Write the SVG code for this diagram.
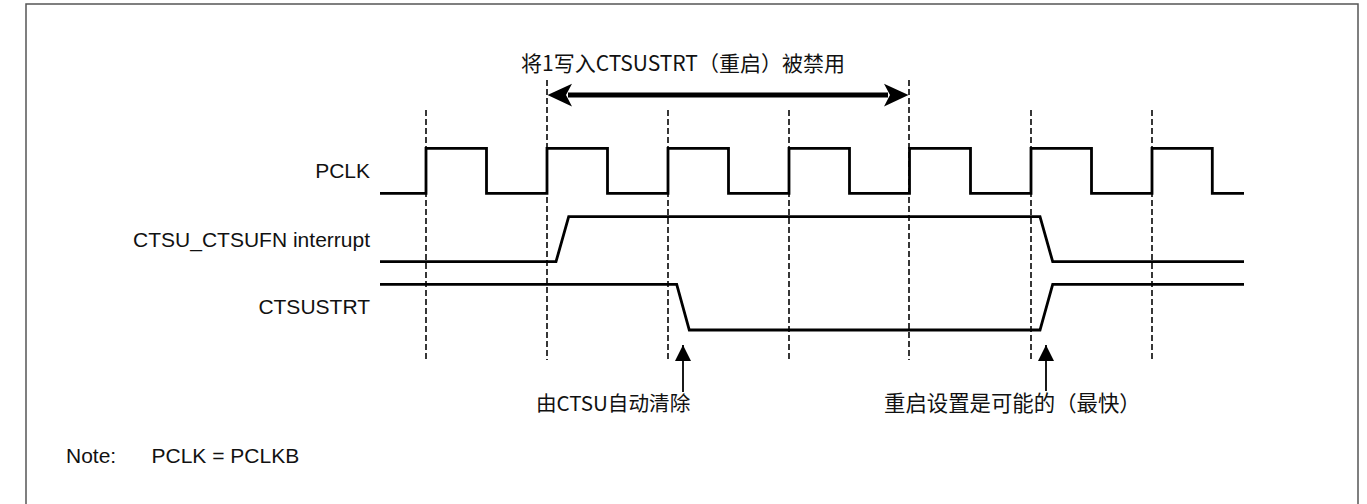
<svg xmlns="http://www.w3.org/2000/svg" width="1367" height="504" viewBox="0 0 1367 504">
<style>
.frame{fill:none;stroke:#555;stroke-width:1.5}
.sig{fill:none;stroke:#000;stroke-width:2.8;stroke-linejoin:miter;stroke-linecap:butt}
.dash{fill:none;stroke:#222;stroke-width:1.8;stroke-dasharray:6 3}
.lbl{font-family:"Liberation Sans",Arial,sans-serif;font-size:21px;fill:#111}
.cjk{font-family:"Noto Sans CJK SC","Noto Sans",sans-serif;fill:#111}
.ptr{fill:none;stroke:#000;stroke-width:1.8}
</style>
<defs>
<marker id="up" markerWidth="16" markerHeight="16" viewBox="0 0 16 16" refX="8" refY="0" orient="0" markerUnits="userSpaceOnUse">
<path d="M8,0 L16,16 L0,16 Z" fill="#000"/>
</marker>
</defs>
<rect x="0" y="0" width="1367" height="504" fill="#fff"/>
<path class="frame" d="M26,505 L26,4 L1358,4 L1358,505"/>

<g id="grid">
<line class="dash" x1="426" y1="110" x2="426" y2="360"/>
<line class="dash" x1="547" y1="80" x2="547" y2="360"/>
<line class="dash" x1="668" y1="110" x2="668" y2="360"/>
<line class="dash" x1="789" y1="110" x2="789" y2="360"/>
<line class="dash" x1="909" y1="80" x2="909" y2="360"/>
<line class="dash" x1="1031" y1="110" x2="1031" y2="360"/>
<line class="dash" x1="1152" y1="110" x2="1152" y2="360"/>
</g>

<g id="title">
<text class="cjk" x="521" y="71" font-size="21">将1写入CTSUSTRT（重启）被禁用</text>
</g>

<g id="connectors">
<line x1="568" y1="95" x2="888" y2="95" stroke="#000" stroke-width="5"/>
<path d="M547.5,95 L572,83.7 L566,95 L572,106.5 Z" fill="#000"/>
<path d="M908.5,95 L884,83.7 L890,95 L884,106.5 Z" fill="#000"/>
<line class="ptr" x1="683" y1="392" x2="683" y2="345" marker-end="url(#up)"/>
<line class="ptr" x1="1046" y1="391" x2="1046" y2="345" marker-end="url(#up)"/>
</g>

<g id="pclk">
<text class="lbl" x="370" y="178" text-anchor="end">PCLK</text>
<path class="sig" d="M380,193.3 H426 V148.3 H486.5 V193.3 H547 V148.3 H607.5 V193.3 H668 V148.3 H728.5 V193.3 H789 V148.3 H849.5 V193.3 H909.5 V148.3 H970.5 V193.3 H1031 V148.3 H1091.5 V193.3 H1152 V148.3 H1212.3 V193.3 H1244"/>
</g>

<g id="interrupt">
<text class="lbl" x="370" y="247" text-anchor="end">CTSU_CTSUFN interrupt</text>
<path class="sig" d="M380,261.7 H556 L568.7,216.7 H1040 L1052.7,261.7 H1244"/>
</g>

<g id="ctsustrt">
<text class="lbl" x="370" y="314" text-anchor="end">CTSUSTRT</text>
<path class="sig" d="M380,284.3 H676.7 L689.3,330 H1040 L1052.7,284.3 H1244"/>
</g>

<g id="label-cleared">
<text class="cjk" x="536" y="411" font-size="20.6">由CTSU自动清除</text>
</g>
<g id="label-restart">
<text class="cjk" x="884" y="411" font-size="21.4">重启设置是可能的（最快）</text>
</g>

<g id="note">
<text class="lbl" x="66" y="462.5">Note:</text>
<text class="lbl" x="151.5" y="462.5">PCLK = PCLKB</text>
</g>
</svg>
